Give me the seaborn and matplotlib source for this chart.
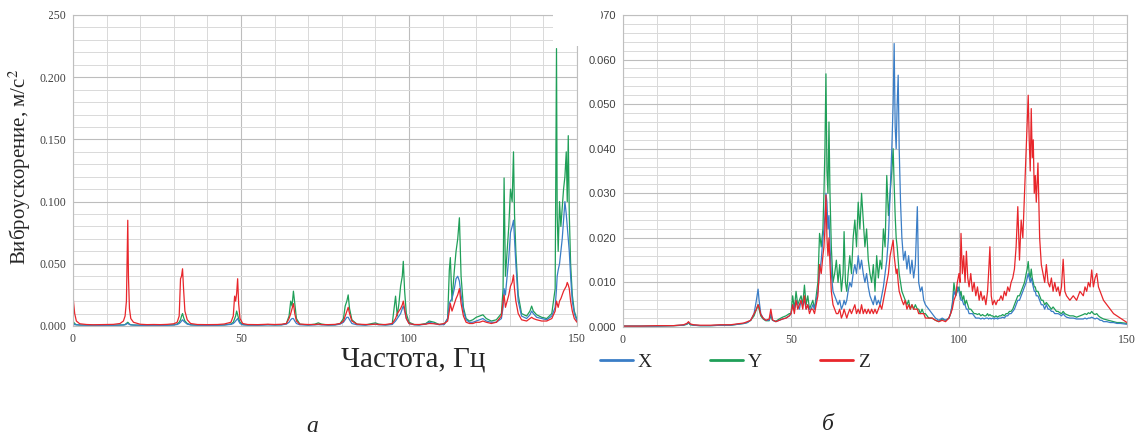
import pandas as pd
import matplotlib
matplotlib.use('Agg')
import matplotlib.pyplot as plt
from matplotlib.patches import Rectangle
from matplotlib.lines import Line2D
from matplotlib.ticker import MultipleLocator, FormatStrFormatter
import seaborn as sns

# Спектр (а): частота, Гц и виброускорение по осям X, Y, Z, м/с2
freq_a = [0, 0.2, 0.5, 1, 2, 4, 6, 8, 10, 12, 14,
          15, 15.5, 15.9, 16.1, 16.3, 16.5, 16.8, 17.2, 18,
          20, 22, 24, 26, 28, 30, 31,
          31.6, 32, 32.3, 32.6, 32.9, 33.3, 34, 35,
          37, 40, 43, 45, 47,
          47.7, 48.1, 48.4, 48.7, 49.0, 49.3, 49.7, 50.5,
          52, 55, 58, 60, 62,
          63.5, 64.3, 64.8, 65.2, 65.6, 66, 66.5, 67.5,
          70, 72, 73, 74, 76, 78, 79.5,
          80.5, 81, 81.5, 81.9, 82.3, 83, 84.5,
          87, 89, 90, 91, 93, 95,
          96, 96.5, 97, 97.5, 98, 98.3, 98.7, 99.2, 100, 101.5,
          103, 105, 106, 107.5, 109, 110.5,
          111.5, 112, 112.3, 112.8, 113.5, 114, 114.5, 115, 115.5, 116.2, 117,
          118, 119, 120, 121, 122, 123, 124.5, 126, 127.5,
          128, 128.3, 128.7, 129.2, 129.7, 130.2, 130.7, 131.1, 131.4, 131.8, 132.5, 133.5,
          135, 136, 136.5, 137, 138, 139.5, 141, 142.5,
          143.5, 143.9, 144.1, 144.4, 144.8, 145.2, 145.6, 146, 146.4, 146.8, 147.1, 147.4, 147.7, 148.1, 148.6, 149.2, 150]
accel_x_a = [0.003, 0.002, 0.001, 0.001, 0.0008, 0.0006, 0.0006, 0.0005, 0.0006, 0.0006, 0.0007,
             0.0008, 0.001, 0.0015, 0.002, 0.002, 0.0018, 0.0012, 0.0009, 0.0007,
             0.0006, 0.0005, 0.0006, 0.0005, 0.0006, 0.0008, 0.0012,
             0.002, 0.003, 0.004, 0.005, 0.004, 0.003, 0.0015, 0.0009,
             0.0006, 0.0005, 0.0006, 0.0008, 0.0013,
             0.002, 0.003, 0.004, 0.005, 0.006, 0.004, 0.002, 0.001,
             0.0007, 0.0006, 0.0009, 0.0008, 0.0009,
             0.0015, 0.003, 0.005, 0.006, 0.006, 0.004, 0.002, 0.001,
             0.0007, 0.0009, 0.0012, 0.0009, 0.0007, 0.0008, 0.0015,
             0.003, 0.005, 0.007, 0.007, 0.005, 0.002, 0.001,
             0.0007, 0.0012, 0.0015, 0.0010, 0.0008, 0.0012,
             0.004, 0.006, 0.008, 0.010, 0.014, 0.016, 0.012, 0.006, 0.002, 0.001,
             0.0008, 0.0015, 0.003, 0.002, 0.001, 0.0012,
             0.006, 0.018, 0.020, 0.022, 0.030, 0.038, 0.040, 0.036, 0.025, 0.012, 0.005,
             0.003, 0.003, 0.004, 0.005, 0.006, 0.004, 0.003, 0.003, 0.006,
             0.015, 0.030, 0.025, 0.040, 0.055, 0.075, 0.080, 0.085, 0.070, 0.050, 0.020, 0.008,
             0.006, 0.009, 0.012, 0.010, 0.007, 0.006, 0.005, 0.008,
             0.015, 0.030, 0.040, 0.045, 0.050, 0.060, 0.070, 0.085, 0.100, 0.090, 0.080, 0.070, 0.060, 0.040, 0.020, 0.010, 0.004]
accel_y_a = [0.004, 0.003, 0.002, 0.001, 0.0008, 0.0007, 0.0006, 0.0006, 0.0007, 0.0006, 0.0008,
             0.0009, 0.0012, 0.002, 0.0025, 0.003, 0.0025, 0.0015, 0.001, 0.0008,
             0.0006, 0.0006, 0.0007, 0.0006, 0.0007, 0.0010, 0.0016,
             0.003, 0.005, 0.008, 0.010, 0.007, 0.004, 0.002, 0.001,
             0.0007, 0.0006, 0.0007, 0.0009, 0.0016,
             0.003, 0.006, 0.008, 0.012, 0.009, 0.006, 0.003, 0.0012,
             0.0008, 0.0007, 0.0012, 0.0009, 0.0010,
             0.002, 0.008, 0.020, 0.016, 0.028, 0.018, 0.006, 0.0015,
             0.0008, 0.0015, 0.0025, 0.0015, 0.0008, 0.0010, 0.002,
             0.006, 0.016, 0.020, 0.025, 0.014, 0.005, 0.0015,
             0.0008, 0.002, 0.0025, 0.0015, 0.0009, 0.0015,
             0.024, 0.008, 0.018, 0.032, 0.040, 0.052, 0.028, 0.010, 0.003, 0.0012,
             0.0009, 0.002, 0.004, 0.003, 0.0012, 0.0015,
             0.006, 0.045, 0.055, 0.020, 0.045, 0.060, 0.070, 0.087, 0.040, 0.015, 0.006,
             0.004, 0.005, 0.007, 0.008, 0.009, 0.006, 0.004, 0.005, 0.010,
             0.030, 0.119, 0.040, 0.060, 0.080, 0.110, 0.100, 0.140, 0.090, 0.060, 0.025, 0.010,
             0.008, 0.012, 0.016, 0.012, 0.009, 0.007, 0.006, 0.010,
             0.030, 0.223, 0.090, 0.060, 0.100, 0.080, 0.095, 0.110, 0.120, 0.140, 0.100, 0.153, 0.090, 0.050, 0.025, 0.012, 0.005]
accel_z_a = [0.025, 0.018, 0.010, 0.004, 0.0018, 0.0012, 0.0010, 0.0011, 0.0012, 0.0013, 0.0020,
             0.004, 0.008, 0.020, 0.055, 0.085, 0.040, 0.014, 0.006, 0.003,
             0.0014, 0.0011, 0.0012, 0.0011, 0.0013, 0.0018, 0.003,
             0.008, 0.038, 0.040, 0.046, 0.030, 0.012, 0.005, 0.002,
             0.0012, 0.0011, 0.0012, 0.0016, 0.003,
             0.008, 0.024, 0.020, 0.026, 0.038, 0.018, 0.006, 0.002,
             0.0012, 0.0011, 0.0014, 0.0012, 0.0014,
             0.002, 0.006, 0.010, 0.014, 0.018, 0.010, 0.004, 0.0015,
             0.0012, 0.0012, 0.0015, 0.0012, 0.0011, 0.0013, 0.002,
             0.004, 0.008, 0.012, 0.015, 0.010, 0.004, 0.0015,
             0.0012, 0.0013, 0.0015, 0.0012, 0.0012, 0.002,
             0.006, 0.010, 0.012, 0.014, 0.017, 0.020, 0.014, 0.006, 0.002, 0.0012,
             0.0012, 0.0015, 0.002, 0.0018, 0.0013, 0.002,
             0.004, 0.012, 0.018, 0.012, 0.018, 0.022, 0.025, 0.030, 0.018, 0.008, 0.003,
             0.002, 0.002, 0.003, 0.003, 0.004, 0.003, 0.002, 0.003, 0.008,
             0.020, 0.025, 0.015, 0.020, 0.025, 0.032, 0.035, 0.041, 0.030, 0.020, 0.010, 0.005,
             0.004, 0.006, 0.007, 0.006, 0.005, 0.004, 0.004, 0.006,
             0.012, 0.020, 0.018, 0.015, 0.020, 0.022, 0.025, 0.028, 0.030, 0.032, 0.035, 0.033, 0.030, 0.020, 0.012, 0.006, 0.003]

# Спектр (б)
freq_b = [0, 5, 10, 15, 18, 19, 19.5, 20, 21, 23, 26, 29, 32, 34, 36, 37,
          38, 39, 39.7, 40.2, 40.5, 41, 41.7, 42.5, 43.5, 44, 44.5, 45.5, 46.5, 47.5, 48.5, 49.5,
          50, 50.5, 51, 51.5, 52, 52.5, 53, 53.5, 54, 54.5, 55, 55.5, 56, 56.5, 57, 57.5, 58, 58.5,
          59, 59.5, 59.8, 60.1, 60.4, 60.7, 61, 61.3, 61.6, 62, 62.5,
          63, 63.5, 64, 64.5, 65, 65.5, 65.8, 66.2, 66.6, 67, 67.5, 68, 68.5, 69, 69.5, 70, 70.5, 71, 71.5, 72, 72.5, 73,
          73.5, 74, 74.5, 75, 75.5, 76, 76.5, 77, 77.5, 78, 78.5, 79, 79.5,
          80, 80.4, 80.7, 81, 81.3, 81.6, 81.9, 82.2, 82.6, 83, 83.5, 84, 84.5, 85, 85.5, 86, 86.5, 87, 87.6, 88, 88.5, 89, 89.5, 90, 91,
          92, 93, 94, 95, 96, 97, 97.5, 98, 98.5, 99, 99.5,
          100, 100.3, 100.6, 101, 101.4, 101.8, 102.2, 102.6, 103,
          103.5, 104, 104.5, 105, 105.5, 106, 106.5, 107, 107.5, 108, 108.5,
          108.8, 109.2, 109.6,
          110, 110.5, 111, 111.5, 112, 112.5, 113, 113.5, 114, 114.5, 115, 115.5, 116, 116.5,
          117, 117.5, 118, 118.5, 119, 119.5, 120, 120.3, 120.6, 120.9, 121.2, 121.5, 121.8, 122.1, 122.4, 122.7, 123, 123.5, 124, 124.5,
          125, 125.5, 126, 126.5, 127, 127.5, 128, 128.5, 129, 129.5, 130, 130.5, 131, 131.5, 132,
          133, 134, 135, 136, 137,
          137.5, 138, 138.5, 139, 139.5, 140, 140.5, 141, 141.5, 142, 142.5, 143,
          144, 145, 146, 147, 148, 149, 150]
accel_x_b = [0.0002, 0.0002, 0.0002, 0.0003, 0.0004, 0.0007, 0.001, 0.0006, 0.0004, 0.0003, 0.0003, 0.0004, 0.0004, 0.0006, 0.0008, 0.001,
             0.0015, 0.003, 0.006, 0.0085, 0.006, 0.003, 0.002, 0.0015, 0.0015, 0.003, 0.0015, 0.0012, 0.0015, 0.0018, 0.002, 0.0025,
             0.003, 0.005, 0.004, 0.006, 0.005, 0.004, 0.006, 0.005, 0.006, 0.004, 0.005, 0.004, 0.004, 0.005, 0.004, 0.006, 0.008, 0.012,
             0.015, 0.020, 0.022, 0.025, 0.030, 0.028, 0.022, 0.025, 0.018, 0.012, 0.008,
             0.007, 0.006, 0.005, 0.006, 0.004, 0.005, 0.006, 0.005, 0.006, 0.008, 0.010, 0.009, 0.012, 0.014, 0.012, 0.016, 0.013, 0.015, 0.012, 0.010, 0.012, 0.009,
             0.007, 0.006, 0.005, 0.007, 0.005, 0.006, 0.005, 0.007, 0.009, 0.012, 0.015, 0.020, 0.030,
             0.040, 0.050, 0.0636, 0.045, 0.040, 0.050, 0.0565, 0.040, 0.028, 0.020, 0.015, 0.017, 0.013, 0.016, 0.012, 0.015, 0.011, 0.014, 0.027, 0.010, 0.008, 0.009, 0.006, 0.005, 0.004,
             0.003, 0.002, 0.0015, 0.002, 0.0015, 0.002, 0.003, 0.005, 0.008, 0.007, 0.009,
             0.008, 0.007, 0.006, 0.006, 0.005, 0.005, 0.004, 0.004, 0.003,
             0.003, 0.003, 0.0025, 0.002, 0.002, 0.002, 0.0018, 0.002, 0.0018, 0.002, 0.002,
             0.0018, 0.002, 0.0018,
             0.002, 0.0018, 0.002, 0.0018, 0.002, 0.002, 0.0022, 0.002, 0.0025, 0.0025, 0.003, 0.003, 0.0035, 0.004,
             0.005, 0.006, 0.006, 0.007, 0.008, 0.009, 0.010, 0.011, 0.012, 0.011, 0.010, 0.011, 0.010, 0.009, 0.008, 0.008, 0.007, 0.007, 0.006, 0.005,
             0.005, 0.004, 0.005, 0.004, 0.004, 0.0035, 0.0035, 0.003, 0.003, 0.003, 0.0028, 0.0025, 0.003, 0.0025, 0.0022,
             0.002, 0.002, 0.0018, 0.0018, 0.0018,
             0.002, 0.0018, 0.002, 0.002, 0.0022, 0.002, 0.0018, 0.002, 0.0018, 0.0015, 0.0015, 0.0012,
             0.0012, 0.001, 0.001, 0.0008, 0.0008, 0.0007, 0.0006]
accel_y_b = [0.0002, 0.0002, 0.0002, 0.0003, 0.0004, 0.0006, 0.0009, 0.0005, 0.0004, 0.0003, 0.0003, 0.0004, 0.0004, 0.0006, 0.0008, 0.0010,
             0.0015, 0.0025, 0.004, 0.005, 0.004, 0.0025, 0.0018, 0.0014, 0.0014, 0.0025, 0.0015, 0.0013, 0.0018, 0.0022, 0.0025, 0.003,
             0.003, 0.007, 0.004, 0.008, 0.005, 0.006, 0.007, 0.005, 0.0094, 0.005, 0.007, 0.004, 0.005, 0.006, 0.004, 0.007, 0.010, 0.021,
             0.018, 0.022, 0.030, 0.040, 0.0568, 0.035, 0.030, 0.046, 0.030, 0.018, 0.010,
             0.012, 0.015, 0.010, 0.014, 0.008, 0.012, 0.0214, 0.010, 0.008, 0.012, 0.016, 0.012, 0.020, 0.024, 0.018, 0.028, 0.022, 0.030, 0.024, 0.018, 0.022, 0.015,
             0.012, 0.010, 0.014, 0.008, 0.016, 0.011, 0.015, 0.013, 0.022, 0.018, 0.034, 0.025, 0.030,
             0.035, 0.040, 0.032, 0.025, 0.020, 0.018, 0.015, 0.012, 0.010, 0.008, 0.007, 0.006, 0.005, 0.006, 0.004, 0.005, 0.004, 0.005, 0.004, 0.004, 0.003, 0.004, 0.003, 0.003, 0.002,
             0.002, 0.0015, 0.0012, 0.0018, 0.0015, 0.002, 0.003, 0.005, 0.0099, 0.007, 0.008,
             0.009, 0.007, 0.008, 0.006, 0.007, 0.005, 0.006, 0.005, 0.004,
             0.004, 0.0035, 0.003, 0.003, 0.0028, 0.003, 0.0025, 0.0028, 0.0025, 0.0025, 0.003,
             0.0025, 0.0028, 0.0025,
             0.0025, 0.0022, 0.0025, 0.0022, 0.0025, 0.0025, 0.0028, 0.0025, 0.003, 0.003, 0.0035, 0.0035, 0.004, 0.005,
             0.006, 0.007, 0.007, 0.008, 0.009, 0.010, 0.012, 0.013, 0.0147, 0.012, 0.011, 0.013, 0.011, 0.010, 0.009, 0.009, 0.008, 0.008, 0.007, 0.006,
             0.006, 0.005, 0.0055, 0.005, 0.0045, 0.004, 0.0045, 0.004, 0.0035, 0.0035, 0.0032, 0.003, 0.0035, 0.003, 0.0028,
             0.0025, 0.0025, 0.0022, 0.0025, 0.0028,
             0.003, 0.0028, 0.0032, 0.003, 0.0035, 0.003, 0.0028, 0.003, 0.0025, 0.0022, 0.002, 0.0018,
             0.0016, 0.0014, 0.0012, 0.001, 0.001, 0.0009, 0.0008]
accel_z_b = [0.0002, 0.0002, 0.0003, 0.0003, 0.0005, 0.0008, 0.0012, 0.0007, 0.0005, 0.0004, 0.0004, 0.0005, 0.0005, 0.0007, 0.0009, 0.0012,
             0.0015, 0.003, 0.004, 0.005, 0.0045, 0.0028, 0.002, 0.0015, 0.0018, 0.004, 0.0016, 0.0012, 0.0015, 0.0018, 0.002, 0.0025,
             0.003, 0.005, 0.003, 0.006, 0.004, 0.005, 0.006, 0.004, 0.007, 0.004, 0.005, 0.003, 0.004, 0.004, 0.003, 0.005, 0.007, 0.014,
             0.012, 0.016, 0.018, 0.022, 0.0296, 0.020, 0.016, 0.020, 0.014, 0.008, 0.005,
             0.004, 0.003, 0.003, 0.004, 0.002, 0.003, 0.004, 0.003, 0.002, 0.003, 0.004, 0.003, 0.004, 0.005, 0.003, 0.004, 0.003, 0.005, 0.003, 0.004, 0.003, 0.004,
             0.003, 0.004, 0.003, 0.004, 0.003, 0.004, 0.005, 0.004, 0.006, 0.008, 0.010, 0.012, 0.016,
             0.018, 0.0195, 0.016, 0.014, 0.012, 0.013, 0.010, 0.008, 0.007, 0.006, 0.005, 0.006, 0.004, 0.005, 0.004, 0.005, 0.004, 0.004, 0.004, 0.003, 0.003, 0.003, 0.003, 0.002, 0.002,
             0.002, 0.0015, 0.0012, 0.0015, 0.0012, 0.002, 0.003, 0.004, 0.006, 0.007, 0.010,
             0.012, 0.010, 0.021, 0.012, 0.016, 0.010, 0.017, 0.011, 0.009,
             0.012, 0.008, 0.010, 0.007, 0.009, 0.006, 0.008, 0.006, 0.007, 0.005, 0.008,
             0.012, 0.018, 0.007,
             0.005, 0.006, 0.005, 0.006, 0.006, 0.007, 0.006, 0.008, 0.007, 0.009, 0.008, 0.010, 0.011, 0.013,
             0.018, 0.027, 0.015, 0.024, 0.020, 0.030, 0.040, 0.046, 0.052, 0.042, 0.035, 0.049, 0.038, 0.042, 0.030, 0.034, 0.028, 0.0368, 0.020, 0.014,
             0.012, 0.010, 0.014, 0.010, 0.009, 0.011, 0.008, 0.010, 0.008, 0.009, 0.007, 0.009, 0.0152, 0.008, 0.007,
             0.006, 0.007, 0.006, 0.008, 0.007,
             0.009, 0.008, 0.010, 0.009, 0.0128, 0.009, 0.011, 0.012, 0.009, 0.008, 0.007, 0.006,
             0.005, 0.004, 0.003, 0.0025, 0.002, 0.0015, 0.001]

axis_names = ['X', 'Y', 'Z']
draw_order = ['Y', 'X', 'Z']
colors = {'X': '#3a7dc6', 'Y': '#1f9f58', 'Z': '#e8262b'}

W, H = 1141, 441


def long_table(freq, x, y, z):
    df = pd.DataFrame({'f': freq, 'X': x, 'Y': y, 'Z': z})
    return df.melt(id_vars='f', var_name='axis', value_name='a')


df_a = long_table(freq_a, accel_x_a, accel_y_a, accel_z_a)
df_b = long_table(freq_b, accel_x_b, accel_y_b, accel_z_b)

sns.set_style('white')
plt.rcParams['font.family'] = ['Liberation Serif', 'DejaVu Serif']
plt.rcParams['mathtext.fontset'] = 'stix'

fig = plt.figure(figsize=(W / 100, H / 100), dpi=100)
ax1 = fig.add_axes([73 / W, (H - 326) / H, 504 / W, 311 / H])
ax2 = fig.add_axes([623 / W, (H - 327) / H, 504 / W, 312 / H])

for ax, df, ymax, ymaj, ymin in [(ax1, df_a, 0.25, 0.05, 0.01),
                                 (ax2, df_b, 0.07, 0.01, 0.002)]:
    sns.lineplot(data=df, x='f', y='a', hue='axis', hue_order=draw_order,
                 palette=colors, linewidth=0.9, estimator=None, legend=False, ax=ax)
    ax.set_xlim(0, 150)
    ax.set_ylim(0, ymax)
    ax.xaxis.set_major_locator(MultipleLocator(50))
    ax.xaxis.set_minor_locator(MultipleLocator(10))
    ax.yaxis.set_major_locator(MultipleLocator(ymaj))
    ax.yaxis.set_minor_locator(MultipleLocator(ymin))
    ax.yaxis.set_major_formatter(FormatStrFormatter('%.3f'))
    ax.grid(which='minor', color='#d9d9d9', lw=0.7)
    ax.grid(which='major', color='#bdbdbd', lw=0.8)
    ax.set_axisbelow(True)
    for s in ax.spines.values():
        s.set_color('#bfbfbf')
        s.set_linewidth(0.8)
    ax.tick_params(axis='y', which='major', length=3, color='#bfbfbf', pad=2,
                   labelsize=8.5, labelcolor='#404040')
    ax.tick_params(axis='y', which='minor', length=0)
    ax.tick_params(axis='x', which='both', length=0, pad=5,
                   labelsize=8.5, labelcolor='#404040')
    ax.set_xlabel('')
    ax.set_ylabel('')

# подписи делений правого графика по оси Y - рубленый шрифт
for lab in ax2.get_yticklabels():
    lab.set_fontfamily('Liberation Sans')
    lab.set_fontsize(8)

# легенда под правым графиком
handles = [Line2D([], [], color=colors[k], lw=2) for k in axis_names]
ax2.legend(handles, axis_names, ncol=3, loc='center', bbox_to_anchor=(0.222, -0.112),
           frameon=False, prop={'family': 'Liberation Serif', 'size': 14},
           handlelength=1.7, handletextpad=0.25, columnspacing=3.0)

# подписи осей и рисунков
fig.text(20 / W, 1 - 167 / H, 'Виброускорение, м/с$^2$', rotation=90,
         ha='center', va='center', fontsize=15)
fig.text(413 / W, 1 - 359 / H, 'Частота, Гц', ha='center', va='center', fontsize=21)
fig.text(312 / W, 1 - 427 / H, 'а', ha='center', va='center', fontsize=17, style='italic')
fig.text(828 / W, 1 - 425 / H, 'б', ha='center', va='center', fontsize=17, style='italic')

# правый рисунок наложен на левый: белые поля обрезают углы
ax1.add_artist(Rectangle((0, (H - 25) / H), 49 / W, 25 / H, transform=fig.transFigure,
                         facecolor='white', edgecolor='none', clip_on=False, zorder=10))
ax2.add_artist(Rectangle((553 / W, (H - 46) / H), 48 / W, 46 / H, transform=fig.transFigure,
                         facecolor='white', edgecolor='none', clip_on=False, zorder=10))

fig.savefig('out.png', dpi=100)
